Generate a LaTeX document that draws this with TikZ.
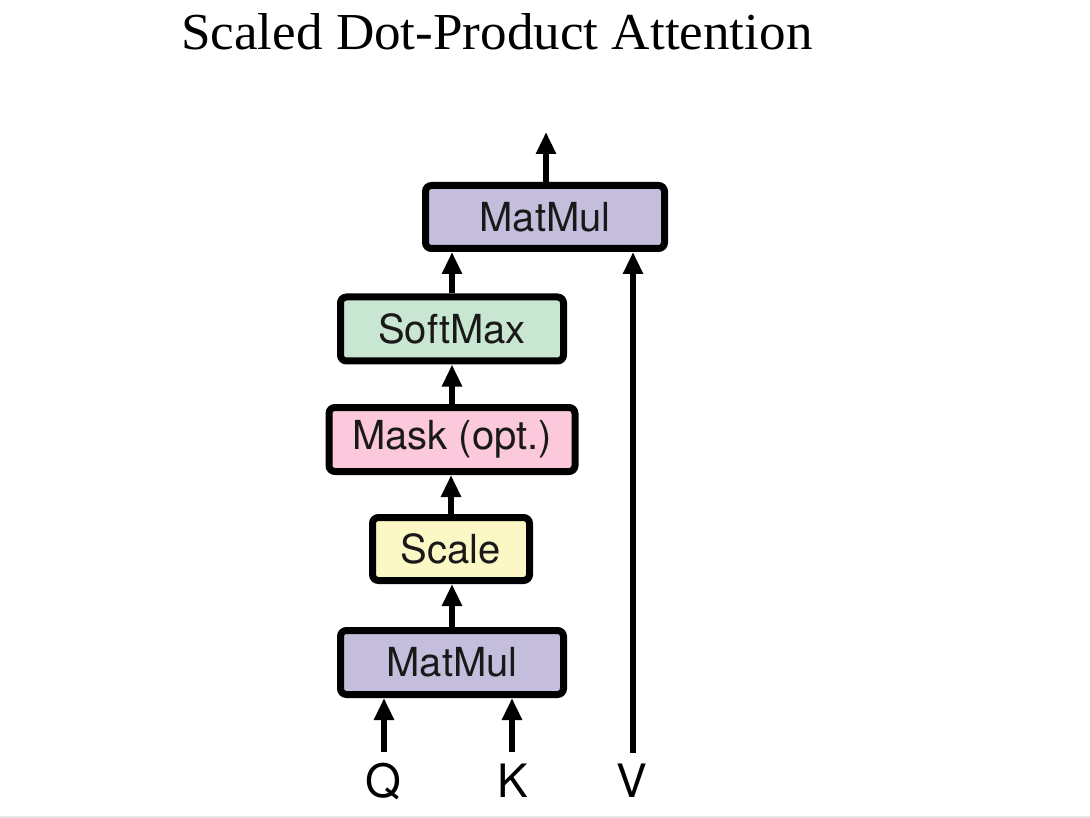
\documentclass[tikz,border=0pt]{standalone}
\usepackage{fontspec}
\setmainfont{Liberation Serif}
\newfontfamily\boxfont{TeX Gyre Heros}
\usetikzlibrary{arrows.meta}
\definecolor{mmcol}{HTML}{C4BDDC}
\definecolor{smcol}{HTML}{C8E6D1}
\definecolor{mkcol}{HTML}{FBC8DC}
\definecolor{sccol}{HTML}{FCF8C6}
\definecolor{rulecol}{HTML}{E6E6E6}
\tikzset{
  opbox/.style={draw=black, line width=7pt, rounded corners=6pt, inner sep=0pt,
    minimum height=64pt, font=\boxfont\fontsize{40}{44}\selectfont, text=black!90},
  flow/.style={line width=6.5pt, -{Triangle[width=19pt,length=22pt]}},
  inlabel/.style={inner sep=0pt, anchor=base, font=\boxfont\fontsize{46}{50}\selectfont},
}
\begin{document}
\begin{tikzpicture}[x=1pt,y=-1pt]
\useasboundingbox (0,0) rectangle (1090,818);
\fill[white] (0,0) rectangle (1090,818);
\draw[rulecol, line width=1.5pt] (0,817) -- (1090,817);

\node[anchor=base west, inner sep=0pt] (title) at (181,50)
  {\resizebox{631pt}{36pt}{Scaled Dot-Product Attention}};

\node[opbox, fill=mmcol, minimum width=239pt, minimum height=63pt] (mm2) at (545,217) {MatMul};
\node[opbox, fill=smcol, minimum width=223pt] (sm) at (452,329) {SoftMax};
\node[opbox, fill=mkcol, minimum width=246pt] (mask) at (452,439.5) {Mask (opt.)};
\node[opbox, fill=sccol, minimum width=157pt, minimum height=63pt] (scale) at (451,549) {Scale};
\node[opbox, fill=mmcol, minimum width=223pt] (mm1) at (452,662.5) {MatMul};

\node[inlabel] (q) at (383,797) {Q};
\node[inlabel] (k) at (513,797) {K};
\node[inlabel] (v) at (632,797) {V};

\coordinate (out) at (546,132);
\coordinate (qin) at (384,752);
\coordinate (kin) at (512,752);
\coordinate (vin) at (633,753);

\draw[flow] (mm2.north -| out) -- (out);
\draw[flow] (sm.north) -- (sm.north |- mm2.south);
\draw[flow] (mask.north) -- (sm.south);
\draw[flow] (scale.north) -- (scale.north |- mask.south);
\draw[flow] (mm1.north) -- (mm1.north |- scale.south);
\draw[flow] (qin) -- (qin |- mm1.south);
\draw[flow] (kin) -- (kin |- mm1.south);
\draw[flow] (vin) -- (vin |- mm2.south);
\end{tikzpicture}
\end{document}
